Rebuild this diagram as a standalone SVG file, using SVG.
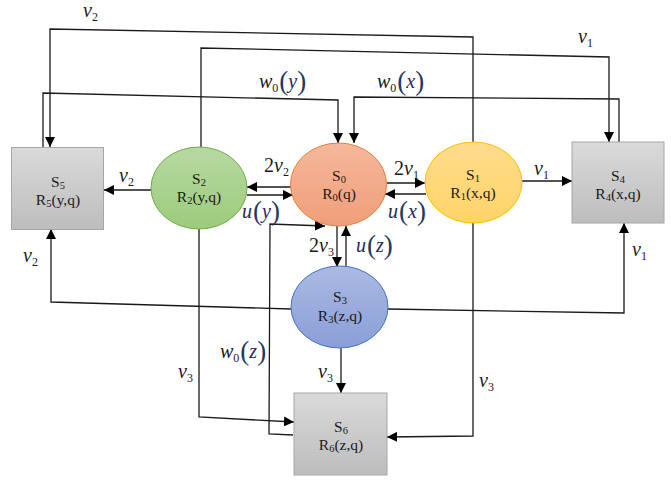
<svg xmlns="http://www.w3.org/2000/svg" width="671" height="482" viewBox="0 0 671 482">
<defs>
<linearGradient id="gGray" x1="0" y1="0" x2="0" y2="1"><stop offset="0" stop-color="#dadada"/><stop offset="1" stop-color="#bdbdbd"/></linearGradient>
<linearGradient id="gGreen" x1="0" y1="0" x2="0" y2="1"><stop offset="0" stop-color="#b7d9a2"/><stop offset="1" stop-color="#9ccb7c"/></linearGradient>
<linearGradient id="gOrange" x1="0" y1="0" x2="0" y2="1"><stop offset="0" stop-color="#f5b89b"/><stop offset="1" stop-color="#f09e7a"/></linearGradient>
<linearGradient id="gYellow" x1="0" y1="0" x2="0" y2="1"><stop offset="0" stop-color="#ffdc8e"/><stop offset="1" stop-color="#ffd466"/></linearGradient>
<linearGradient id="gBlue" x1="0" y1="0" x2="0" y2="1"><stop offset="0" stop-color="#abbae3"/><stop offset="1" stop-color="#8a9ed7"/></linearGradient>
<marker id="ah" viewBox="0 0 10 10" refX="10" refY="5" markerWidth="10" markerHeight="10" markerUnits="userSpaceOnUse" orient="auto">
<path d="M0,0 L10,5 L0,10 z" fill="#000"/>
</marker>
</defs>
<style>
.box{fill:url(#gGray);stroke:#a6a6a6;stroke-width:1}
.nt{font-family:"Liberation Serif",serif;font-size:15.5px;fill:#1a1a1a;text-anchor:middle}
.ns{font-size:10.5px}
.c{fill:none;stroke:#1a1a1a;stroke-width:1.3}
.a{marker-end:url(#ah)}
.m{font-family:"Liberation Serif",serif;font-style:italic;font-size:20px;fill:#1a1a1a}
.sb{font-size:12px;font-style:normal}
.pr{font-size:27px;font-style:normal;fill:#1f3864}
.nv{fill:#1f2a5a}
</style>

<g id="connectors">
<polyline class="c a" points="473,142 473,37 50,29 50,147"/>
<polyline class="c a" points="201,147 201,48 609,57 609,142"/>
<polyline class="c a" points="43,147 43,93 338,100 338,143"/>
<polyline class="c a" points="619,142 619,99 354,97 354,143"/>
<line class="c a" x1="151" y1="190" x2="104" y2="190"/>
<line class="c a" x1="291" y1="187" x2="247" y2="187"/>
<line class="c a" x1="247" y1="195" x2="293" y2="195"/>
<line class="c a" x1="387" y1="183" x2="425" y2="183"/>
<line class="c a" x1="426" y1="194" x2="385" y2="194"/>
<line class="c a" x1="522" y1="181" x2="572" y2="181"/>
<line class="c a" x1="337" y1="226" x2="337" y2="267"/>
<line class="c a" x1="346" y1="266" x2="346" y2="226"/>
<polyline class="c a" points="293,435 269,434 270,224 325,226"/>
<polyline class="c a" points="199,229 199,417 294,422"/>
<polyline class="c a" points="291,309 51,302 51,229"/>
<polyline class="c a" points="388,309 624,313 624,223"/>
<polyline class="c a" points="473,223 473,436 387,437"/>
<line class="c a" x1="341" y1="348" x2="341" y2="393"/>
</g>

<g id="labels">
<text class="m" x="83" y="17">v<tspan class="sb" dy="4">2</tspan></text>
<text class="m" x="578" y="43">v<tspan class="sb" dy="4">1</tspan></text>
<text class="m" x="259" y="88">w<tspan class="sb" dy="4">0</tspan><tspan class="pr" dx="1" dy="-2">(</tspan><tspan class="nv" dy="-2">y</tspan><tspan class="pr" dy="2">)</tspan></text>
<text class="m" x="377" y="88">w<tspan class="sb" dy="4">0</tspan><tspan class="pr" dx="1" dy="-2">(</tspan><tspan class="nv" dy="-2">x</tspan><tspan class="pr" dy="2">)</tspan></text>
<text class="m" x="119" y="182">v<tspan class="sb" dy="4">2</tspan></text>
<text class="m" x="264" y="172"><tspan font-style="normal">2</tspan>v<tspan class="sb" dy="4">2</tspan></text>
<text class="m nv" x="242" y="218">u<tspan class="pr" dx="1" dy="2">(</tspan><tspan dy="-2">y</tspan><tspan class="pr" dy="2">)</tspan></text>
<text class="m" x="394" y="175"><tspan font-style="normal">2</tspan>v<tspan class="sb" dy="4">1</tspan></text>
<text class="m nv" x="388" y="218">u<tspan class="pr" dx="1" dy="2">(</tspan><tspan dy="-2">x</tspan><tspan class="pr" dy="2">)</tspan></text>
<text class="m" x="534" y="175">v<tspan class="sb" dy="4">1</tspan></text>
<text class="m" x="309" y="252"><tspan font-style="normal">2</tspan>v<tspan class="sb" dy="4">3</tspan></text>
<text class="m nv" x="356" y="252">u<tspan class="pr" dx="1" dy="2">(</tspan><tspan dy="-2">z</tspan><tspan class="pr" dy="2">)</tspan></text>
<text class="m" x="23" y="262">v<tspan class="sb" dy="4">2</tspan></text>
<text class="m" x="632" y="256">v<tspan class="sb" dy="4">1</tspan></text>
<text class="m" x="220" y="358">w<tspan class="sb" dy="4">0</tspan><tspan class="pr" dx="1" dy="-2">(</tspan><tspan class="nv" dy="-2">z</tspan><tspan class="pr" dy="2">)</tspan></text>
<text class="m" x="178" y="378">v<tspan class="sb" dy="4">3</tspan></text>
<text class="m" x="318" y="378">v<tspan class="sb" dy="4">3</tspan></text>
<text class="m" x="479" y="387">v<tspan class="sb" dy="4">3</tspan></text>
</g>

<g id="S5">
<rect class="box" x="11.5" y="147.5" width="92" height="82"/>
<text class="nt" x="58" y="187">S<tspan class="ns" dy="2">5</tspan></text>
<text class="nt" x="58" y="205">R<tspan class="ns" dy="2">5</tspan><tspan dy="-2">(y,q)</tspan></text>
</g>
<g id="S2">
<ellipse cx="199" cy="188" rx="48" ry="41" fill="url(#gGreen)" stroke="#70ad47" stroke-width="1"/>
<text class="nt" x="199" y="184">S<tspan class="ns" dy="2">2</tspan></text>
<text class="nt" x="199" y="202">R<tspan class="ns" dy="2">2</tspan><tspan dy="-2">(y,q)</tspan></text>
</g>
<g id="S0">
<ellipse cx="338.5" cy="184.5" rx="48" ry="41.5" fill="url(#gOrange)" stroke="#ed7d31" stroke-width="1"/>
<text class="nt" x="339" y="181">S<tspan class="ns" dy="2">0</tspan></text>
<text class="nt" x="339" y="199">R<tspan class="ns" dy="2">0</tspan><tspan dy="-2">(q)</tspan></text>
</g>
<g id="S1">
<ellipse cx="473.5" cy="182.5" rx="48.5" ry="40.5" fill="url(#gYellow)" stroke="#ffc000" stroke-width="1"/>
<text class="nt" x="473" y="180">S<tspan class="ns" dy="2">1</tspan></text>
<text class="nt" x="473" y="198">R<tspan class="ns" dy="2">1</tspan><tspan dy="-2">(x,q)</tspan></text>
</g>
<g id="S4">
<rect class="box" x="572" y="142" width="92" height="81"/>
<text class="nt" x="618" y="181">S<tspan class="ns" dy="2">4</tspan></text>
<text class="nt" x="618" y="199">R<tspan class="ns" dy="2">4</tspan><tspan dy="-2">(x,q)</tspan></text>
</g>
<g id="S3">
<ellipse cx="339.5" cy="307" rx="48.5" ry="41" fill="url(#gBlue)" stroke="#4472c4" stroke-width="1"/>
<text class="nt" x="340" y="302">S<tspan class="ns" dy="2">3</tspan></text>
<text class="nt" x="340" y="321">R<tspan class="ns" dy="2">3</tspan><tspan dy="-2">(z,q)</tspan></text>
</g>
<g id="S6">
<rect class="box" x="294" y="393" width="93" height="82"/>
<text class="nt" x="341" y="432">S<tspan class="ns" dy="2">6</tspan></text>
<text class="nt" x="341" y="450">R<tspan class="ns" dy="2">6</tspan><tspan dy="-2">(z,q)</tspan></text>
</g>
</svg>
